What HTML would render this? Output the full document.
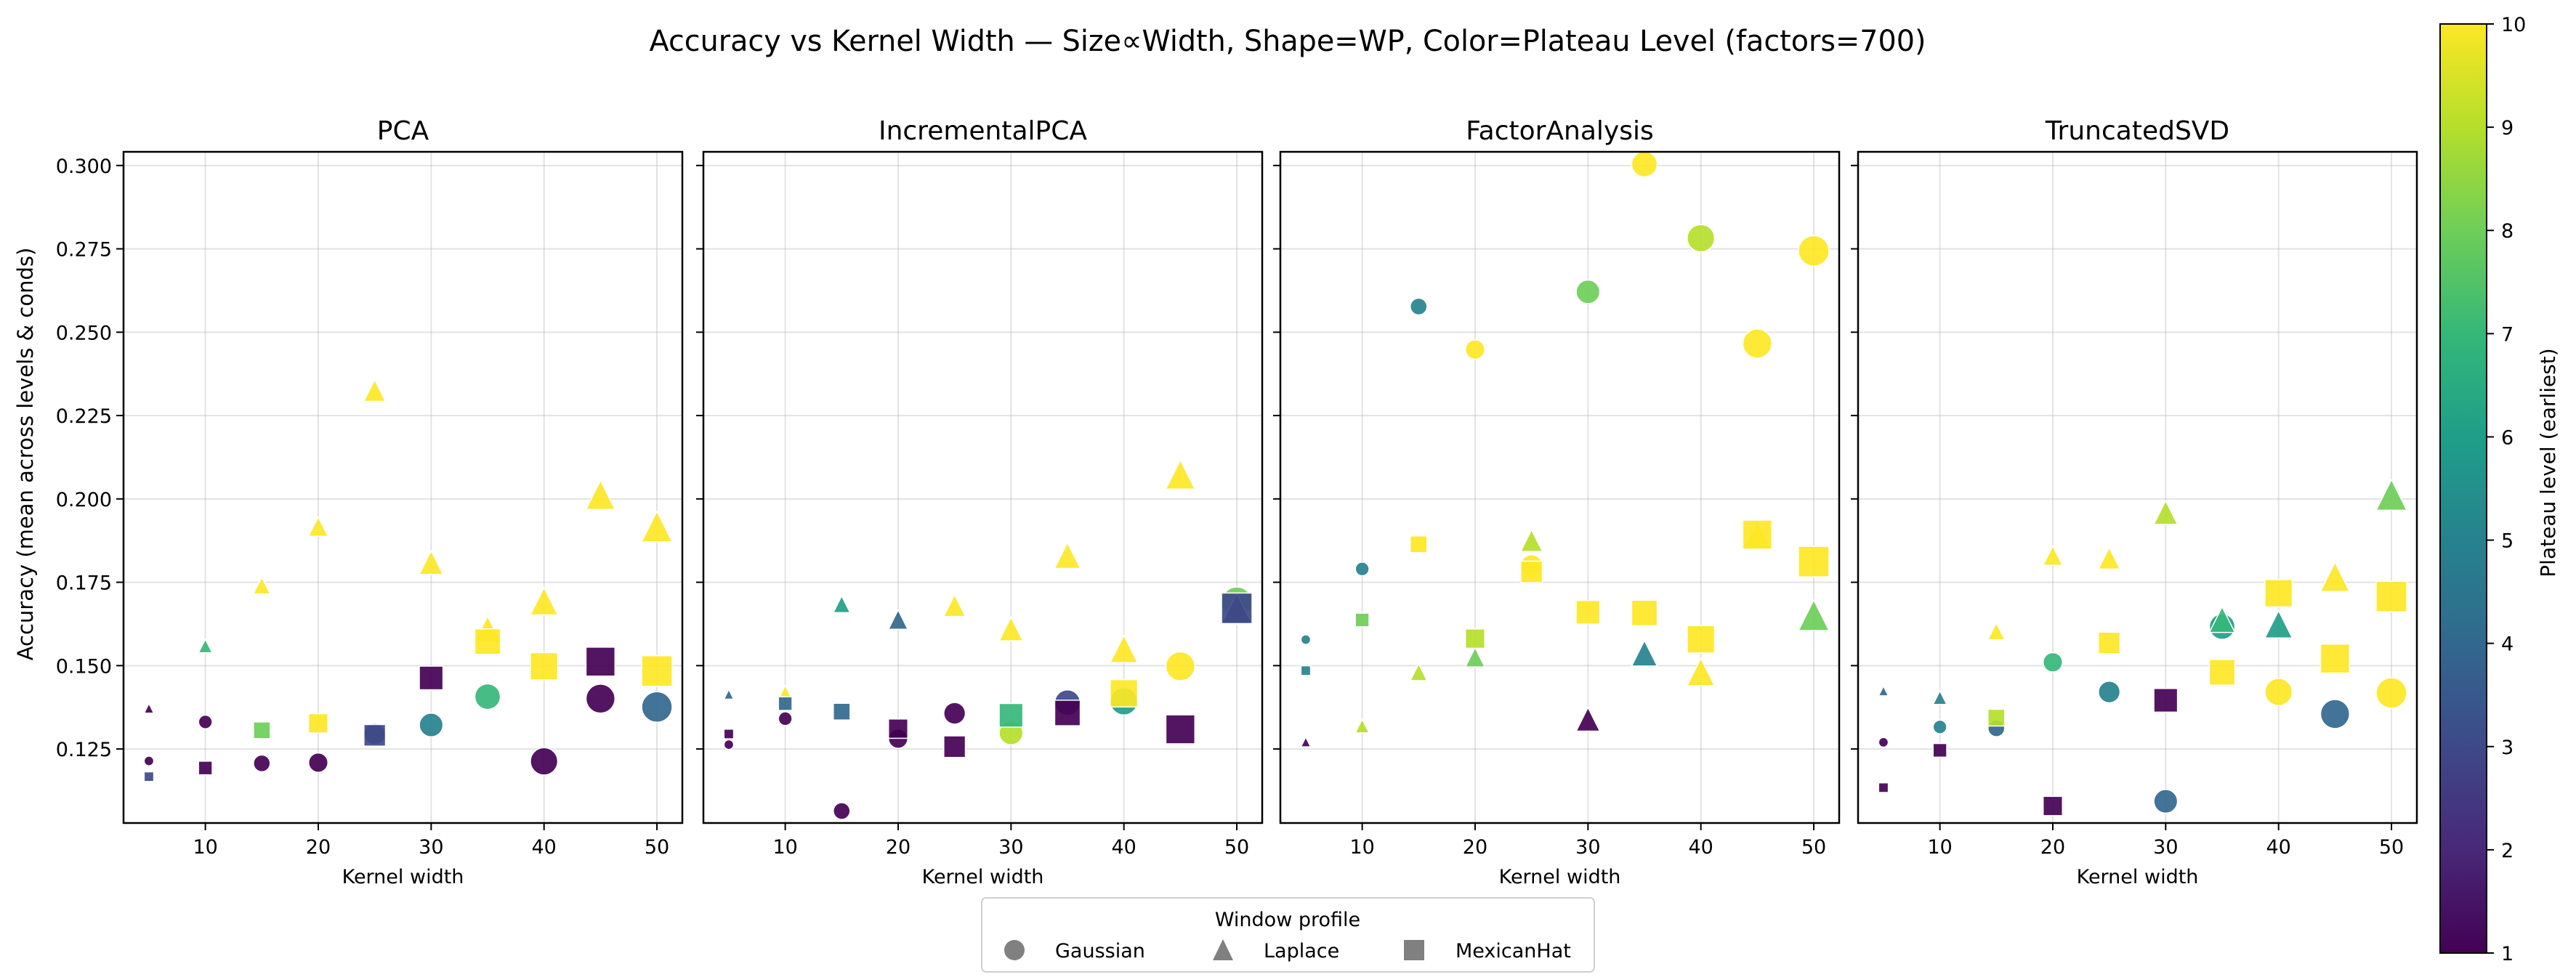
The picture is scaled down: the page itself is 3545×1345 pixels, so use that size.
<!DOCTYPE html>
<html><head><meta charset="utf-8">
<style>
html,body{margin:0;padding:0;background:#fff;}
svg{display:block;font-family:"DejaVu Sans","Liberation Sans",sans-serif;}
</style></head>
<body>
<svg id="chart" width="3545" height="1345" viewBox="0 0 3545 1345" xmlns="http://www.w3.org/2000/svg">
<defs>
<linearGradient id="viridis" x1="0" y1="1" x2="0" y2="0">
<stop offset="0" stop-color="#440154"/><stop offset="0.111" stop-color="#482878"/>
<stop offset="0.222" stop-color="#3e4989"/><stop offset="0.333" stop-color="#31688e"/>
<stop offset="0.444" stop-color="#26828e"/><stop offset="0.556" stop-color="#1f9e89"/>
<stop offset="0.667" stop-color="#35b779"/><stop offset="0.778" stop-color="#6ece58"/>
<stop offset="0.889" stop-color="#b5de2b"/><stop offset="1" stop-color="#fde725"/>
</linearGradient>
</defs>
<text x="1772" y="70" font-size="40" text-anchor="middle" textLength="1757" lengthAdjust="spacingAndGlyphs">Accuracy vs Kernel Width — Size∝Width, Shape=WP, Color=Plateau Level (factors=700)</text>
<g id="panels"></g>
<text transform="translate(45,625) rotate(-90)" font-size="29" text-anchor="middle">Accuracy (mean across levels &amp; conds)</text>
<g>
<rect x="1351" y="1236" width="843" height="102" rx="6" fill="#fff" stroke="#d0d0d0" stroke-width="2"/>
<text x="1772" y="1275" font-size="27" text-anchor="middle">Window profile</text>
<g><circle cx="1396" cy="1308" r="14" fill="#808080"/><text x="1452" y="1318" font-size="27">Gaussian</text></g>
<g><polygon points="1683,1293 1669,1322 1697,1322" fill="#808080"/><text x="1739" y="1318" font-size="27">Laplace</text></g>
<g><rect x="1932" y="1294" width="28" height="28" fill="#808080"/><text x="2003" y="1318" font-size="27">MexicanHat</text></g>
</g>
<g>
<rect x="3358" y="33" width="64" height="1279" fill="url(#viridis)" stroke="#000" stroke-width="2"/>
<g id="cbticks"></g>
<text transform="translate(3516,637) rotate(-90)" font-size="28" text-anchor="middle">Plateau level (earliest)</text>
</g>
</svg>
<script>
const widths = [5,10,15,20,25,30,35,40,45,50];
const methods = ["PCA","IncrementalPCA","FactorAnalysis","TruncatedSVD"];
const yTicks = [0.125,0.150,0.175,0.200,0.225,0.250,0.275,0.300];
const xTicks = [10,20,30,40,50];
const cbTicks = [1,2,3,4,5,6,7,8,9,10];
// accuracy values per method, per profile
const pcaGauss  = [0.1214,0.1331,0.1207,0.1209,0.1295,0.1322,0.1407,0.1213,0.1401,0.1376];
const pcaLap    = [0.1372,0.1559,0.1740,0.1917,0.2325,0.1809,0.1610,0.1693,0.2012,0.1917];
const pcaMex    = [0.1167,0.1193,0.1306,0.1327,0.1291,0.1463,0.1572,0.1498,0.1512,0.1484];
const ipcaGauss = [0.1263,0.1341,0.1064,0.1281,0.1357,0.1298,0.1389,0.1393,0.1498,0.1690];
const ipcaLap   = [0.1414,0.1420,0.1684,0.1638,0.1680,0.1610,0.1830,0.1550,0.2073,0.1670];
const ipcaMex   = [0.1295,0.1386,0.1362,0.1311,0.1257,0.1351,0.1358,0.1417,0.1309,0.1672];
const faGauss   = [0.1578,0.1790,0.2577,0.2448,0.1800,0.2621,0.3004,0.2782,0.2466,0.2744];
const faLap     = [0.1271,0.1319,0.1480,0.1525,0.1875,0.1339,0.1537,0.1481,0.1890,0.1651];
const faMex     = [0.1485,0.1637,0.1864,0.1581,0.1781,0.1660,0.1658,0.1579,0.1893,0.1812];
const svdGauss  = [0.1270,0.1316,0.1312,0.1510,0.1421,0.1093,0.1617,0.1421,0.1355,0.1418];
const svdLap    = [0.1424,0.1404,0.1603,0.1830,0.1822,0.1959,0.1638,0.1624,0.1766,0.2012];
const svdMex    = [0.1134,0.1246,0.1344,0.1079,0.1568,0.1396,0.1480,0.1717,0.1521,0.1707];
// plateau levels
const pcaGaussLv  = [1,1,1,1,3,5,7,1,1,4];
const pcaLapLv    = [1,7,10,10,10,10,10,10,10,10];
const pcaMexLv    = [3,1,8,10,3,1,10,10,1,10];
const ipcaGaussLv = [1,1,1,1,1,9,3,6,10,8];
const ipcaLapLv   = [4,10,6,4,10,10,10,10,10,3];
const ipcaMexLv   = [1,4,4,1,1,7,1,10,1,3];
const faGaussLv   = [5,5,5,10,10,8,10,9,10,10];
const faLapLv     = [1,9,9,8,9,1,5,10,10,8];
const faMexLv     = [5,8,10,9,10,10,10,10,10,10];
const svdGaussLv  = [1,5,4,7,5,4,6,10,4,10];
const svdLapLv    = [4,5,10,10,10,9,7,6,10,8];
const svdMexLv    = [1,1,9,1,10,1,10,10,10,10];

const series = [
 [[pcaGauss,pcaGaussLv],[pcaLap,pcaLapLv],[pcaMex,pcaMexLv]],
 [[ipcaGauss,ipcaGaussLv],[ipcaLap,ipcaLapLv],[ipcaMex,ipcaMexLv]],
 [[faGauss,faGaussLv],[faLap,faLapLv],[faMex,faMexLv]],
 [[svdGauss,svdGaussLv],[svdLap,svdLapLv],[svdMex,svdMexLv]]
];
const shapes = ["gaussian","laplace","mexicanhat"];
const NS = "http://www.w3.org/2000/svg";
const vir = ["#440154","#482878","#3e4989","#31688e","#26828e","#1f9e89","#35b779","#6ece58","#b5de2b","#fde725"];
function hex(c){return [1,3,5].map(i=>parseInt(c.substr(i,2),16));}
function color(lv){
  const t=(lv-1)/9*9, i=Math.min(8,Math.floor(t)), f=t-i;
  const a=hex(vir[i]), b=hex(vir[i+1]);
  return "rgb("+a.map((v,k)=>Math.round(v+(b[k]-v)*f)).join(",")+")";
}
const lefts=[170,968,1762,2557], PW=769, TOP=209, BOT=1133;
const X0=2.75, X1=52.25, Y0=0.1028, Y1=0.3041;
function mk(tag,attrs,parent){const e=document.createElementNS(NS,tag);for(const k in attrs)e.setAttribute(k,attrs[k]);parent.appendChild(e);return e;}
const panels=document.getElementById("panels");
methods.forEach((m,pi)=>{
  const L=lefts[pi];
  const xs=v=>L+(v-X0)/(X1-X0)*PW;
  const ys=v=>BOT-(v-Y0)/(Y1-Y0)*(BOT-TOP);
  const g=mk("g",{},panels);
  
  
  const t=mk("text",{x:L+PW/2,y:192,"font-size":36,"text-anchor":"middle"},g);
  t.textContent=m;
  
  
  yTicks.forEach(v=>{
    const y=ys(v);
    const gl=mk("line",{x1:L,x2:L+PW,y1:y,y2:y,stroke:"#b0b0b0","stroke-opacity":0.35,"stroke-width":2},g);
    
    
    mk("line",{x1:L-10,x2:L,y1:y,y2:y,stroke:"#000","stroke-width":2},g);
    if(pi===0){
      const tl=mk("text",{x:L-16,y:y+10,"font-size":27,"text-anchor":"end"},g);
      tl.textContent=v.toFixed(3);
      
      
    }
  });
  xTicks.forEach(v=>{
    const x=xs(v);
    const gl=mk("line",{x1:x,x2:x,y1:TOP,y2:BOT,stroke:"#b0b0b0","stroke-opacity":0.35,"stroke-width":2},g);
    
    
    mk("line",{x1:x,x2:x,y1:BOT,y2:BOT+10,stroke:"#000","stroke-width":2},g);
    const tl=mk("text",{x:x,y:BOT+42,"font-size":27,"text-anchor":"middle"},g);
    tl.textContent=v;
    
    
  });
  const xl=mk("text",{x:L+PW/2,y:1216,"font-size":27,"text-anchor":"middle"},g);
  xl.textContent="Kernel width";
  
  
  series[pi].forEach((s,si)=>{
    const vals=s[0], lvs=s[1];
    widths.forEach((w,i)=>{
      const cx=xs(w), cy=ys(vals[i]), d=5.94*Math.sqrt(w), c=color(lvs[i]);
      let e;
      if(si===0) e=mk("circle",{cx:cx,cy:cy,r:d/2},g);
      else if(si===1) e=mk("polygon",{points:`${cx},${cy-d/2} ${cx-d/2},${cy+d/2} ${cx+d/2},${cy+d/2}`},g);
      else e=mk("rect",{x:cx-d/2,y:cy-d/2,width:d,height:d},g);
      e.setAttribute("fill",c);e.setAttribute("fill-opacity",0.92);
      e.setAttribute("stroke","#fff");e.setAttribute("stroke-width",1.5);
      
      
    });
  });
  const fr=mk("rect",{x:L,y:TOP,width:PW,height:BOT-TOP,fill:"none",stroke:"#000","stroke-width":2.5},g);
  
  
});
const cb=document.getElementById("cbticks");
cbTicks.forEach(v=>{
  const y=1312-(v-1)/9*(1312-33);
  mk("line",{x1:3422,x2:3432,y1:y,y2:y,stroke:"#000","stroke-width":2},cb);
  const t=mk("text",{x:3442,y:y+10,"font-size":27},cb);
  t.textContent=v;
  
  
});
</script>
</body></html>
